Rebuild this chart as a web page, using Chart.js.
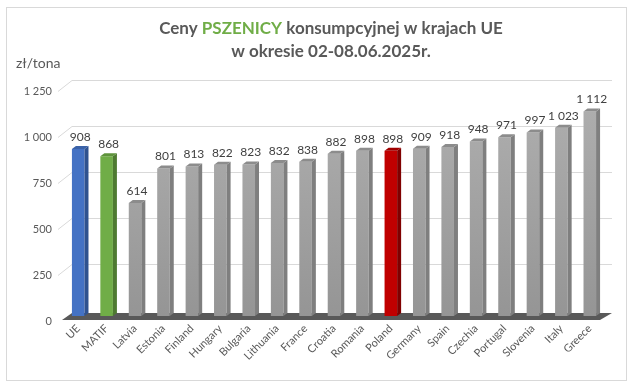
<!DOCTYPE html>
<html>
<head>
<meta charset="utf-8">
<script src="https://cdn.jsdelivr.net/npm/chart.js@4/dist/chart.umd.min.js"></script>
<style>
  body { margin: 0; background: #fff; }
  #wrap { position: relative; width: 635px; height: 387px; }
  #frame { position: absolute; left: 6px; top: 7px; width: 621px; height: 374px; border: 1px solid #d9d9d9; box-sizing: border-box; }
  canvas { position: absolute; left: 0; top: 0; }
</style>
</head>
<body>
<div id="wrap">
  <div id="frame"></div>
  <canvas id="myChart" width="635" height="387"></canvas>
</div>
<script>
// dane
var countries = ['UE', 'MATIF', 'Latvia', 'Estonia', 'Finland', 'Hungary', 'Bulgaria', 'Lithuania', 'France', 'Croatia',
  'Romania', 'Poland', 'Germany', 'Spain', 'Czechia', 'Portugal', 'Slovenia', 'Italy', 'Greece'];
var prices = [908, 868, 614, 801, 813, 822, 823, 832, 838, 882, 898, 898, 909, 918, 948, 971, 997, 1023, 1112];
var yTicks = [0, 250, 500, 750, 1000, 1250];

var titleLine1 = [['Ceny ', '#595959'], ['PSZENICY', '#70AD47'], [' konsumpcyjnej w krajach UE', '#595959']];
var titleLine2 = 'w okresie 02-08.06.2025r.';
var unitLabel = 'zł/tona';

var FONT = 'Lato, "Open Sans", sans-serif';

function fmt(v) {
  return String(v).replace(/\B(?=(\d{3})+(?!\d))/g, ' ');
}

function colorsFor(name) {
  if (name == 'UE') return { front: '#4472C4', side: '#2F528F', top: '#3A62A8' };
  if (name == 'MATIF') return { front: '#70AD47', side: '#4E7A31', top: '#5E933B' };
  if (name == 'Poland') return { front: '#C00000', side: '#800000', top: '#A00000' };
  return null;
}

// glebokosc efektu 3D
var DEPTH = 4, RISE = 3;
var BACK_DX = 8, BACK_DY = 6, FRONT_DX = 6, FRONT_DY = 5;

var bars3d = {
  id: 'bars3d',
  beforeDatasetsDraw(chart) {
    var ctx = chart.ctx, a = chart.chartArea, ys = chart.scales.y;
    var base = ys.getPixelForValue(0);
    ctx.save();
    // linie siatki na tylnej scianie
    ctx.strokeStyle = '#D9D9D9';
    ctx.lineWidth = 1;
    yTicks.forEach(function (v) {
      if (v == 0) return;
      var y = Math.round(ys.getPixelForValue(v)) + 0.5;
      ctx.beginPath();
      ctx.moveTo(a.left - FRONT_DX, y + FRONT_DY);
      ctx.lineTo(a.left + BACK_DX, y - BACK_DY);
      ctx.lineTo(a.right + BACK_DX, y - BACK_DY);
      ctx.stroke();
    });
    // podloga
    ctx.fillStyle = '#595959';
    ctx.beginPath();
    ctx.moveTo(a.left - 2, base + 4);
    ctx.lineTo(a.right - 4, base + 4);
    ctx.lineTo(a.right + BACK_DX, base - 3);
    ctx.lineTo(a.left + BACK_DX, base - 3);
    ctx.closePath();
    ctx.fill();
    ctx.restore();
  },
  afterDatasetsDraw(chart) {
    var ctx = chart.ctx;
    var meta = chart.getDatasetMeta(0);
    ctx.save();
    meta.data.forEach(function (bar, i) {
      var c = colorsFor(countries[i]) || { side: '#7F7F7F', top: '#8C8C8C' };
      var l = bar.x - bar.width / 2, r = bar.x + bar.width / 2;
      ctx.fillStyle = c.side;
      ctx.beginPath();
      ctx.moveTo(r, bar.y);
      ctx.lineTo(r + DEPTH, bar.y - RISE);
      ctx.lineTo(r + DEPTH, bar.base - RISE);
      ctx.lineTo(r, bar.base);
      ctx.closePath();
      ctx.fill();
      ctx.fillStyle = c.top;
      ctx.beginPath();
      ctx.moveTo(l, bar.y);
      ctx.lineTo(r, bar.y);
      ctx.lineTo(r + DEPTH, bar.y - RISE);
      ctx.lineTo(l + DEPTH, bar.y - RISE);
      ctx.closePath();
      ctx.fill();
      // etykieta wartosci
      ctx.fillStyle = '#404040';
      ctx.font = '12px ' + FONT;
      ctx.textAlign = 'center';
      ctx.textBaseline = 'bottom';
      ctx.fillText(fmt(prices[i]), bar.x + 2, bar.y - RISE - 3);
    });
    ctx.restore();
  },
  afterDraw(chart) {
    var ctx = chart.ctx;
    ctx.save();
    ctx.font = 'bold 17px ' + FONT;
    ctx.textBaseline = 'middle';
    var w = titleLine1.reduce(function (s, p) { return s + ctx.measureText(p[0]).width; }, 0);
    var x = 331 - w / 2;
    titleLine1.forEach(function (p) {
      ctx.fillStyle = p[1];
      ctx.textAlign = 'left';
      ctx.fillText(p[0], x, 29);
      x += ctx.measureText(p[0]).width;
    });
    ctx.fillStyle = '#595959';
    ctx.textAlign = 'center';
    ctx.fillText(titleLine2, 331, 52);
    ctx.font = '14px ' + FONT;
    ctx.textAlign = 'left';
    ctx.fillText(unitLabel, 16, 63);
    ctx.restore();
  }
};

var ctx = document.getElementById('myChart').getContext('2d');
var chart = new Chart(ctx, {
  type: 'bar',
  data: {
    labels: countries,
    datasets: [{
      data: prices,
      backgroundColor: function (context) {
        var c = colorsFor(countries[context.dataIndex]);
        if (c) return c.front;
        var a = context.chart.chartArea;
        if (!a) return '#A5A5A5';
        var g = context.chart.ctx.createLinearGradient(0, a.top, 0, a.bottom);
        g.addColorStop(0, '#B0B0B0');
        g.addColorStop(1, '#959595');
        return g;
      },
      barPercentage: 0.85,
      categoryPercentage: 0.52
    }]
  },
  options: {
    responsive: false,
    animation: false,
    layout: { padding: { top: 86, left: 0, right: 31, bottom: 0 } },
    plugins: { legend: { display: false }, tooltip: { enabled: false } },
    scales: {
      x: {
        grid: { display: false, drawTicks: false },
        border: { display: false },
        ticks: { color: '#595959', font: { family: FONT, size: 11 }, minRotation: 45, maxRotation: 45, padding: 6 },
        afterFit: function (axis) { axis.height = 71; }
      },
      y: {
        min: 0,
        max: 1250,
        afterBuildTicks: function (axis) { axis.ticks = yTicks.map(function (v) { return { value: v }; }); },
        grid: { display: false, drawTicks: false },
        border: { display: false },
        ticks: { color: '#595959', font: { family: FONT, size: 11 }, padding: 12, labelOffset: FRONT_DY, callback: function (v) { return fmt(v); } },
        afterFit: function (axis) { axis.width = 64; }
      }
    }
  },
  plugins: [bars3d]
});
</script>
</body>
</html>
